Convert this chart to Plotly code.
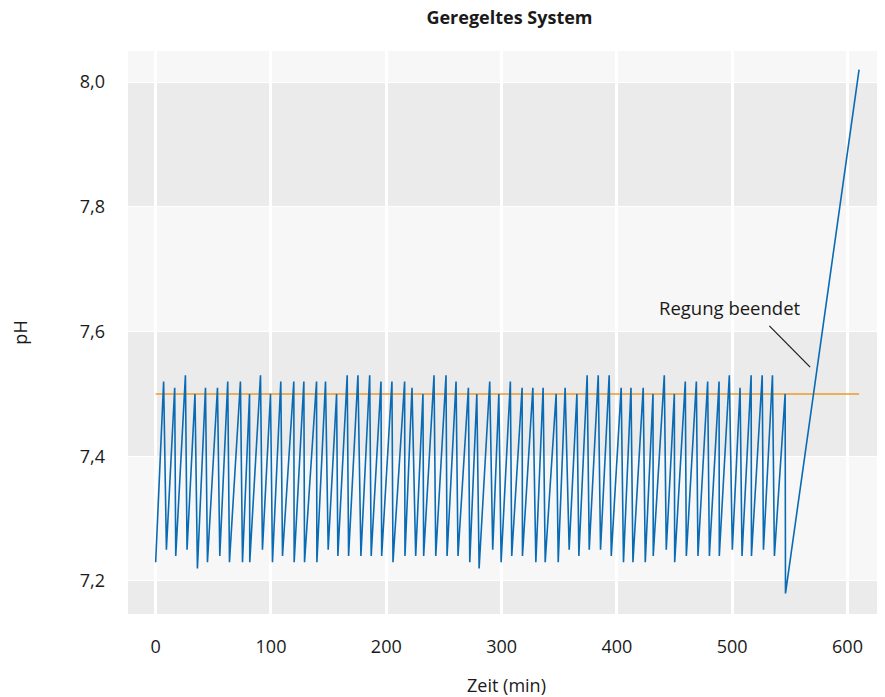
import plotly.graph_objects as go

# ---- data ----
time_min = [0, 6.9, 9.3, 16.5, 17.4, 25.8, 27.2, 34.1, 36.2, 43.2, 44.9, 53.6, 55.6, 62.5, 64.0,
            73.5, 75.3, 81.4, 81.6, 90.9, 92.6, 99.6, 101.3, 108.5, 110.0, 119.8, 120.1, 128.5, 129.1,
            139.5, 139.8, 147.3, 149.6, 156.9, 158.0, 166.1, 167.3, 175.4, 178.0, 185.6, 186.9,
            195.4, 196.0, 204.9, 205.8, 215.9, 216.2, 222.3, 225.5, 231.8, 232.4, 241.4, 242.9,
            251.8, 252.7, 260.5, 262.2, 271.2, 272.4, 278.5, 280.5, 289.7, 292.3, 297.6, 299.6,
            307.6, 308.8, 317.8, 318.1, 327.1, 329.7, 336.0, 337.8, 347.3, 349.1, 355.1, 358.6,
            365.3, 367.0, 374.2, 376.0, 383.8, 385.8, 393.3, 395.1, 403.7, 405.7, 412.2, 413.9,
            422.8, 424.6, 431.3, 431.5, 441.1, 442.8, 449.8, 450.1, 459.3, 460.2, 468.9, 470.3,
            478.7, 480.2, 488.6, 488.8, 497.5, 500.1, 506.8, 508.5, 516.4, 516.7, 526.0, 527.1,
            534.9, 536.6, 545.9, 546.2, 610]

ph_values = [7.23,
             7.52, 7.25, 7.51, 7.24, 7.53, 7.25, 7.50, 7.22, 7.51, 7.23,
             7.51, 7.24, 7.52, 7.23, 7.52, 7.23, 7.50, 7.23, 7.53, 7.25,
             7.50, 7.23, 7.52, 7.24, 7.52, 7.23, 7.52, 7.23, 7.52, 7.23,
             7.52, 7.25, 7.50, 7.24, 7.53, 7.24, 7.53, 7.24, 7.53, 7.24,
             7.52, 7.24, 7.52, 7.23, 7.52, 7.24, 7.51, 7.24, 7.50, 7.24,
             7.53, 7.24, 7.53, 7.24, 7.52, 7.24, 7.51, 7.23, 7.50, 7.22,
             7.52, 7.25, 7.50, 7.23, 7.52, 7.24, 7.51, 7.24, 7.51, 7.23,
             7.51, 7.23, 7.50, 7.23, 7.51, 7.25, 7.50, 7.24, 7.53, 7.25,
             7.53, 7.25, 7.53, 7.24, 7.51, 7.23, 7.51, 7.23, 7.51, 7.23,
             7.50, 7.24, 7.53, 7.25, 7.50, 7.23, 7.52, 7.24, 7.52, 7.24,
             7.52, 7.24, 7.52, 7.24, 7.53, 7.25, 7.51, 7.24, 7.53, 7.24,
             7.53, 7.25, 7.53, 7.24, 7.50, 7.18,
             8.02]

setpoint_time = [0, 610]
setpoint_ph = [7.5, 7.5]

x_ticks = [0, 100, 200, 300, 400, 500, 600]
y_ticks = [7.2, 7.4, 7.6, 7.8, 8.0]

x_range = [-24, 632.5]
y_range = [7.147, 8.05]

annot_text = "Regung beendet"
annot_pos = (498.5, 7.639)
annot_line = (532.2, 7.609, 567.6, 7.543)

# ---- styles ----
FONT = "Open Sans"
TXT = "#1a1a1a"
BAND_DARK = "#EBEBEB"
BAND_LIGHT = "#F7F7F7"
W, H = 877, 689  # page body has an 8px margin

fig = go.Figure()

fig.add_trace(go.Scatter(x=setpoint_time, y=setpoint_ph, mode="lines",
                         line=dict(color="#EE9A2A", width=1.5),
                         hoverinfo="skip", showlegend=False))
fig.add_trace(go.Scatter(x=time_min, y=ph_values, mode="lines",
                         line=dict(color="#0A6BB5", width=1.6),
                         showlegend=False))

# alternating horizontal bands
bands = [(y_range[0], 7.2), (7.4, 7.6), (7.8, 8.0)]
for y0, y1 in bands:
    fig.add_shape(type="rect", xref="paper", yref="y", x0=0, x1=1, y0=y0, y1=y1,
                  fillcolor=BAND_DARK, line=dict(width=0), layer="below")

fig.add_shape(type="line", xref="x", yref="y",
              x0=annot_line[0], y0=annot_line[1], x1=annot_line[2], y1=annot_line[3],
              line=dict(color="#1a1a1a", width=1.2))
fig.add_annotation(x=annot_pos[0], y=annot_pos[1], text=annot_text, showarrow=False,
                   font=dict(family=FONT, size=18.5, color=TXT))

fig.update_layout(
    width=W, height=H,
    margin=dict(l=120, r=0, t=43, b=83, autoexpand=False),
    paper_bgcolor="white",
    plot_bgcolor=BAND_LIGHT,
    separators=",.",
    title=dict(text="<b>Geregeltes System</b>", xref="container", yref="container",
               x=501.5 / W, xanchor="center",
               y=1 - 3 / H, yanchor="top",
               font=dict(family=FONT, size=18, color=TXT)),
    font=dict(family=FONT, color=TXT),
    xaxis=dict(range=x_range, tickvals=x_ticks, showgrid=True, gridcolor="white",
               gridwidth=2.5, zeroline=False, showline=False, ticks="",
               ticklabelstandoff=20, automargin=False,
               tickfont=dict(family=FONT, size=18, color=TXT),
               title=dict(text="Zeit (min)", standoff=29,
                          font=dict(family=FONT, size=18, color=TXT))),
    yaxis=dict(range=y_range, tickvals=y_ticks, tickformat=".1f", showgrid=True,
               gridcolor="white", gridwidth=1, zeroline=False, showline=False,
               ticks="", ticklabelstandoff=22, automargin=False,
               tickfont=dict(family=FONT, size=18, color=TXT),
               title=dict(text="pH", standoff=58,
                          font=dict(family=FONT, size=18, color=TXT))),
)

fig.write_html("out.html")
